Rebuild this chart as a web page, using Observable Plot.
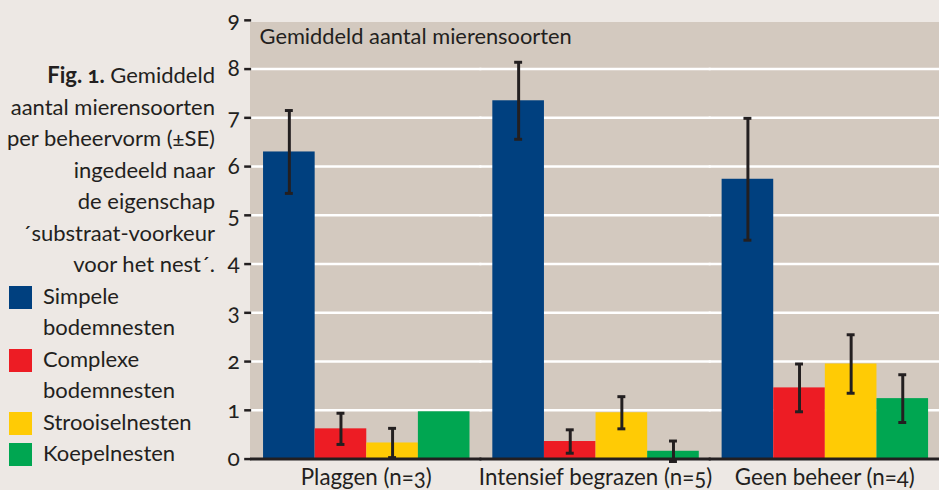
<!DOCTYPE html>
<html><head><meta charset="utf-8">
<script src="https://cdn.jsdelivr.net/npm/d3@7"></script>
<script src="https://cdn.jsdelivr.net/npm/@observablehq/plot@0.6"></script>
<style>
html,body{margin:0;padding:0;background:#ede8e4;width:939px;height:490px;overflow:hidden;}
#wrap{position:relative;width:939px;height:490px;overflow:hidden;font-family:Lato,sans-serif;color:#231f20;font-variant-numeric:oldstyle-nums;}
#chart{position:absolute;left:0;top:0;}
#chart svg text{font-variant-numeric:oldstyle-nums;}
#chart svg g[aria-label="y-axis tick label"] text{font-size:23px;}
#side{position:absolute;left:0;top:59px;width:215px;font-size:22px;line-height:31.5px;}
.cap{text-align:right;}
.item{display:flex;align-items:flex-start;}
.sw{width:23px;height:23px;margin:6px 11px 0 9px;flex:none;}
.lab{width:172px;}
</style></head>
<body><div id="wrap"><div id="chart"></div><div id="side"></div></div>
<script>
const groups = ["Plaggen (n=3)", "Intensief begrazen (n=5)", "Geen beheer (n=4)"];
const series = ["Simpele bodemnesten", "Complexe bodemnesten", "Strooiselnesten", "Koepelnesten"];
const colors = ["#00407f", "#ed1c24", "#ffcb05", "#00a651"];
const simpele   = [6.30, 7.35, 5.74];
const complexe  = [0.62, 0.36, 1.46];
const strooisel = [0.33, 0.95, 1.95];
const koepel    = [0.97, 0.16, 1.24];
const seSimpele   = [0.85, 0.79, 1.25];
const seComplexe  = [0.32, 0.24, 0.49];
const seStrooisel = [0.30, 0.33, 0.60];
const seKoepel    = [0.00, 0.21, 0.49];
const yTicks = [0, 1, 2, 3, 4, 5, 6, 7, 8, 9];
const panelTitle = "Gemiddeld aantal mierensoorten";
const captionLabel = "Fig. 1.";
const captionLines = ["Gemiddeld", "aantal mierensoorten", "per beheervorm (±SE)", "ingedeeld naar", "de eigenschap", "´substraat-voorkeur", "voor het nest´."];

const values = [simpele, complexe, strooisel, koepel];
const ses = [seSimpele, seComplexe, seStrooisel, seKoepel];
const data = groups.flatMap((g, gi) => series.map((s, si) => ({group: g, series: s, value: values[si][gi], se: ses[si][gi]})));
const withErr = data.filter(d => d.se > 0);
const ink = "#231f20";
const yMax = d3.max(yTicks);

const chart = Plot.plot({
  width: 946, height: 490,
  marginLeft: 252, marginRight: 0, marginTop: 20, marginBottom: 15,
  style: {background: "none", fontFamily: "Lato, sans-serif", color: ink, overflow: "visible"},
  fx: {domain: groups, padding: 0},
  x: {domain: series, paddingInner: 0, paddingOuter: 0.19, axis: null},
  y: {domain: [0, yMax], insetBottom: 13},
  color: {domain: series, range: colors},
  marks: [
    Plot.rect([0], {y1: 0, y2: yMax, insetTop: 2, insetLeft: -1, insetRight: -1, fill: "#d3c9bf", shapeRendering: "crispEdges"}),
    Plot.ruleY(yTicks.filter(t => t > 0 && t < yMax), {stroke: "white", strokeWidth: 2.5, insetLeft: -1, insetRight: -1}),
    Plot.barY(data, {fx: "group", x: "series", y: "value", fill: "series"}),
    Plot.ruleX(withErr, {fx: "group", x: "series", y1: d => d.value - d.se, y2: d => d.value + d.se, stroke: ink, strokeWidth: 3}),
    Plot.tickY(withErr, {fx: "group", x: "series", y: d => d.value - d.se, insetLeft: 22, insetRight: 22, stroke: ink, strokeWidth: 3}),
    Plot.tickY(withErr, {fx: "group", x: "series", y: d => d.value + d.se, insetLeft: 22, insetRight: 22, stroke: ink, strokeWidth: 3}),
    Plot.ruleY([0], {stroke: ink, strokeWidth: 3, insetLeft: -1, insetRight: -1}),
    Plot.text([{group: groups[0], t: panelTitle}], {fx: "group", text: "t", frameAnchor: "top-left", lineAnchor: "top", textAnchor: "start", dx: 8, dy: 8, fontSize: 22, fill: ink}),
    Plot.axisY({ticks: yTicks, tickSize: 7, tickPadding: 5, fontSize: 23, line: true, strokeWidth: 2.5, stroke: ink, fill: ink, label: null}),
    Plot.axisFx({anchor: "bottom", tickSize: 0, tickPadding: 0, fontSize: 22.5, label: null, dy: -3, fill: ink})
  ]
});
document.getElementById("chart").appendChild(chart);

const side = d3.select("#side");
const cap = side.append("div").attr("class", "cap");
captionLines.forEach((line, i) => {
  const div = cap.append("div");
  if (i === 0) { div.append("b").text(captionLabel); div.append("span").text(" " + line); }
  else div.text(line);
});
series.forEach((s, i) => {
  const it = side.append("div").attr("class", "item");
  it.append("div").attr("class", "sw").style("background", colors[i]);
  it.append("div").attr("class", "lab").text(s);
});
</script>
</body></html>
